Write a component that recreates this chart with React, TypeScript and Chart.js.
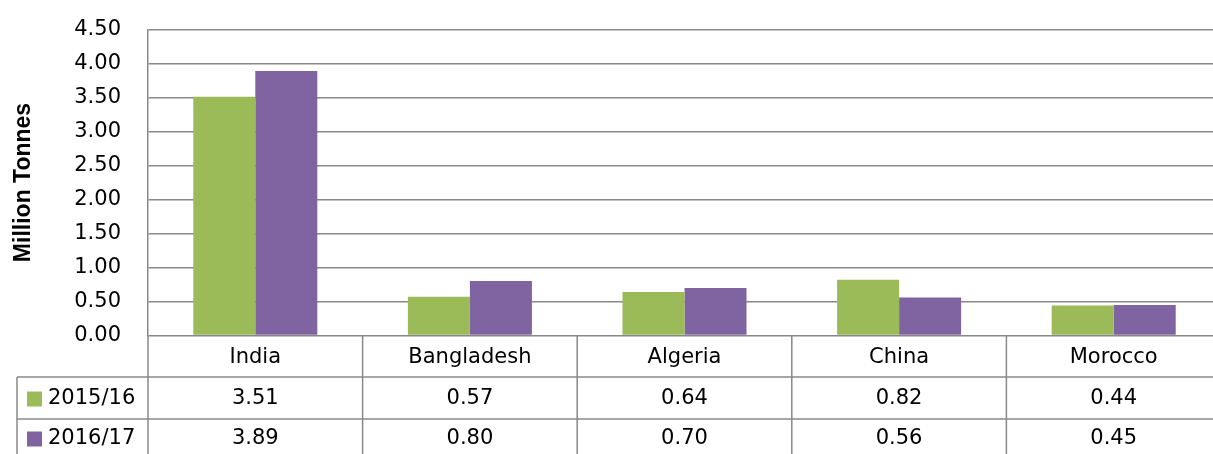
import React, { useEffect, useRef } from "react";
import { Chart, registerables } from "chart.js";

Chart.register(...registerables);

const categories = ["India", "Bangladesh", "Algeria", "China", "Morocco"];
const seriesNames = ["2015/16", "2016/17"];
const values2015 = [3.51, 0.57, 0.64, 0.82, 0.44];
const values2016 = [3.89, 0.8, 0.7, 0.56, 0.45];
const seriesColors = ["#9BBB59", "#8064A2"];
const yTitle = "Million Tonnes";

const FONT = "DejaVu Sans";
const LINE = "#888888";

const tablePlugin = {
  id: "dataTable",
  afterDraw(chart: any) {
    const { ctx, chartArea } = chart;
    const left = chartArea.left;
    const right = chartArea.right;
    const bottom = chartArea.bottom;
    const H = chart.height;
    const n = categories.length;
    const catW = (right - left) / n;
    const headerBottom = bottom + 41.5;
    const row1Bottom = headerBottom + 42;
    const row2Bottom = row1Bottom + 42;
    const legendLeft = 17;

    ctx.save();
    ctx.strokeStyle = LINE;
    ctx.lineWidth = 1.5;
    for (let i = 0; i <= n; i++) {
      const x = left + i * catW;
      ctx.beginPath();
      ctx.moveTo(x, bottom);
      ctx.lineTo(x, H);
      ctx.stroke();
    }
    ctx.beginPath();
    ctx.moveTo(legendLeft, headerBottom);
    ctx.lineTo(legendLeft, H);
    ctx.stroke();
    [headerBottom, row1Bottom].forEach((y) => {
      ctx.beginPath();
      ctx.moveTo(legendLeft, y);
      ctx.lineTo(right, y);
      ctx.stroke();
    });

    ctx.fillStyle = "#000";
    ctx.font = `21px "${FONT}"`;
    ctx.textAlign = "center";
    ctx.textBaseline = "middle";
    const hy = (bottom + headerBottom) / 2 + 1;
    categories.forEach((c, i) => {
      ctx.fillText(c, left + (i + 0.5) * catW, hy);
    });
    const rows = [values2015, values2016];
    const rowCenters = [(headerBottom + row1Bottom) / 2 + 1, (row1Bottom + row2Bottom) / 2 - 1];
    rows.forEach((vals, r) => {
      vals.forEach((v, i) => {
        ctx.fillText(v.toFixed(2), left + (i + 0.5) * catW, rowCenters[r]);
      });
      ctx.fillStyle = seriesColors[r];
      ctx.fillRect(27, rowCenters[r] - 7.5, 15, 15);
      ctx.fillStyle = "#000";
      ctx.textAlign = "left";
      ctx.fillText(seriesNames[r], 48, rowCenters[r]);
      ctx.textAlign = "center";
    });

    ctx.save();
    ctx.translate(24, (chartArea.top + chartArea.bottom) / 2);
    ctx.rotate(-Math.PI / 2);
    ctx.font = `bold 23px "Liberation Sans"`;
    ctx.textAlign = "center";
    ctx.textBaseline = "middle";
    ctx.fillText(yTitle, 0, 0);
    ctx.restore();

    ctx.restore();
  },
};

export default function App() {
  const ref = useRef<HTMLCanvasElement>(null);
  useEffect(() => {
    if (!ref.current) return;
    const chart = new Chart(ref.current, {
      type: "bar",
      data: {
        labels: categories,
        datasets: [
          { label: seriesNames[0], data: values2015, backgroundColor: seriesColors[0], borderWidth: 0 },
          { label: seriesNames[1], data: values2016, backgroundColor: seriesColors[1], borderWidth: 0 },
        ],
      },
      options: {
        responsive: false,
        animation: false,
        events: [],
        layout: { padding: { top: 29.5, bottom: 134.5, left: 0, right: 19 } },
        datasets: { bar: { categoryPercentage: 0.578, barPercentage: 1 } } as any,
        plugins: { legend: { display: false }, tooltip: { enabled: false }, title: { display: false } },
        scales: {
          x: { display: false },
          y: {
            min: 0,
            max: 4.5,
            afterFit: (scale: any) => {
              scale.width = 148;
              scale.paddingTop = 0;
              scale.paddingBottom = 0;
            },
            ticks: {
              stepSize: 0.5,
              padding: 27,
              color: "#000",
              font: { family: FONT, size: 21 },
              callback: (v: any) => Number(v).toFixed(2),
            },
            grid: { color: LINE, lineWidth: 1.5, drawTicks: false },
            border: { color: LINE, width: 1.5 },
          },
        },
      },
      plugins: [tablePlugin],
    });
    return () => chart.destroy();
  }, []);
  return (
    <div
      style={{
        position: "fixed",
        left: 0,
        top: 0,
        width: 1213,
        height: 454,
        overflow: "hidden",
        background: "#fff",
      }}
    >
      <canvas ref={ref} width={1240} height={470} style={{ display: "block" }} />
    </div>
  );
}
